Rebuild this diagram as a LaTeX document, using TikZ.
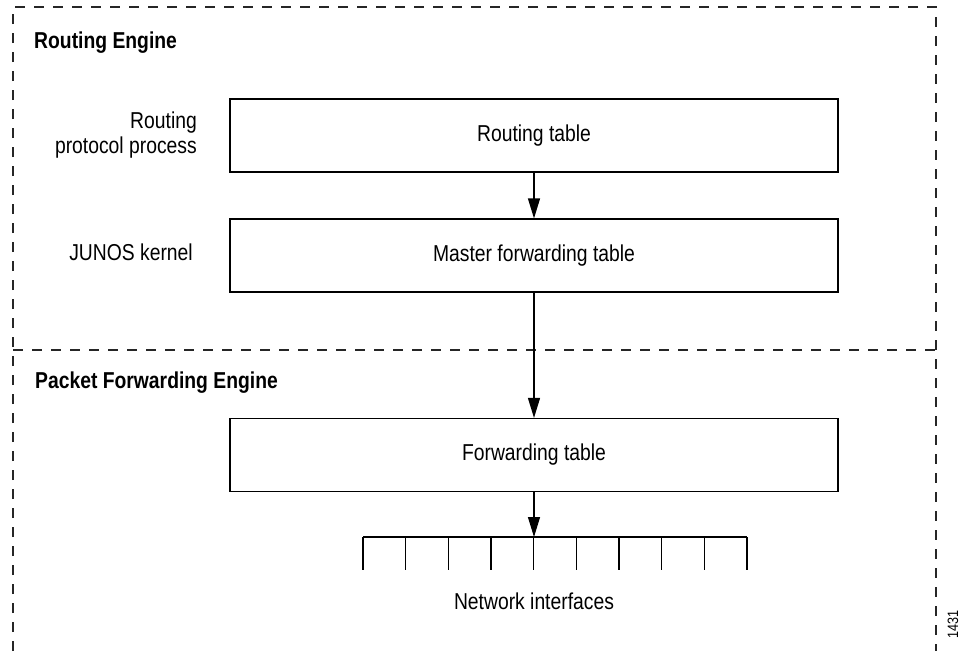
\documentclass[tikz,border=0pt]{standalone}
\usepackage{fontspec}
\setmainfont[FakeStretch=0.84]{Liberation Sans}
\usetikzlibrary{arrows.meta,calc}
\tikzset{
  tbl/.style={draw=black, line width=1.2pt, minimum width=608pt, minimum height=73pt, inner sep=0pt, font=\fontsize{23}{25}\selectfont},
  lbl/.style={inner sep=0pt, font=\fontsize{23}{25}\selectfont},
  hdr/.style={inner sep=0pt, font=\fontsize{23}{25}\selectfont\bfseries},
  flow/.style={line width=1.2pt, -{Triangle[length=20pt,width=12pt]}},
  region/.style={line width=1.5pt, dash pattern=on 10pt off 9pt, draw=black!85},
}
\begin{document}
\begin{tikzpicture}[x=1pt,y=-1pt]
\useasboundingbox (0,0) rectangle (961,651);
% dashed regions
\draw[region] (13,651) -- (13,7) -- (936,7) -- (936,651);
\draw[region] (13,350) -- (936,350);
% headers
\node[hdr, anchor=base west] (re) at (34,48) {Routing Engine};
\node[hdr, anchor=base west] (pfe) at (35,388) {Packet Forwarding Engine};
% tables
\node[tbl] (rt) at (534,135.5) {Routing table};
\node[tbl] (mft) at (534,255.5) {Master forwarding table};
\node[tbl] (ft) at (534,455) {Forwarding table};
% side labels
\node[lbl, anchor=base east, align=right] (rpp) at (197,153) {Routing\\protocol process};
\node[lbl, anchor=base east] (jk) at (193,260) {JUNOS kernel};
% interfaces comb
\coordinate (combL) at (363,537);
\coordinate (combR) at (747,537);
\coordinate (combC) at (534,537);
\draw[line width=1.2pt] (combL) -- (combR);
\foreach \i in {0,...,9} {
  \draw[line width=1.2pt] ($(combL)+(\i*42.667,0)$) -- ++(0,33);
}
\node[lbl, anchor=base] (ni) at (534,609) {Network interfaces};
% arrows
\draw[flow] (rt.south) -- (mft.north);
\draw[flow] (mft.south) -- (ft.north);
\draw[flow] (ft.south) -- (combC);
% figure number
\node[inner sep=0pt, rotate=90, font=\fontsize{15}{17}\selectfont] (fig) at (953,624) {1431};
\end{tikzpicture}
\end{document}
